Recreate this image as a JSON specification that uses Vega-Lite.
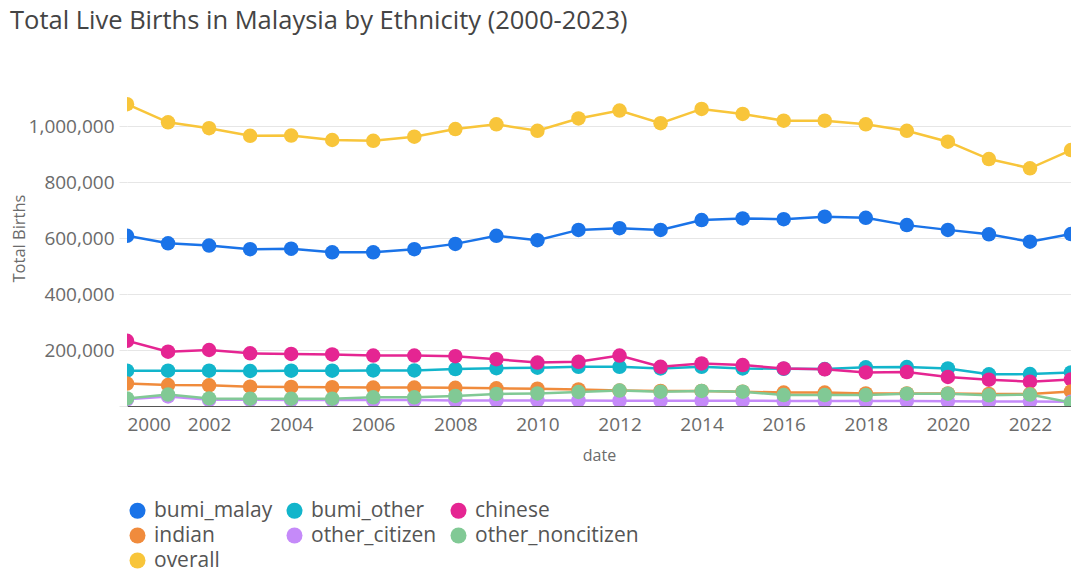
{
  "$schema": "https://vega.github.io/schema/vega-lite/v6.json",
  "width": 944,
  "height": 336,
  "autosize": {"type": "none"},
  "padding": {"left": 127, "top": 70, "right": 0, "bottom": 166},
  "background": "white",
  "title": {
    "text": "Total Live Births in Malaysia by Ethnicity (2000-2023)",
    "anchor": "start",
    "frame": "group",
    "dx": -117,
    "offset": 36,
    "fontSize": 25.5,
    "font": "Open Sans",
    "fontWeight": "normal",
    "color": "#444444"
  },
  "config": {
    "view": {"stroke": null},
    "font": "Open Sans"
  },
  "data": {
    "values": [
      {"year": 2000, "ethnicity": "bumi_malay", "births": 608000},
      {"year": 2001, "ethnicity": "bumi_malay", "births": 581000},
      {"year": 2002, "ethnicity": "bumi_malay", "births": 573000},
      {"year": 2003, "ethnicity": "bumi_malay", "births": 560000},
      {"year": 2004, "ethnicity": "bumi_malay", "births": 562000},
      {"year": 2005, "ethnicity": "bumi_malay", "births": 549000},
      {"year": 2006, "ethnicity": "bumi_malay", "births": 549000},
      {"year": 2007, "ethnicity": "bumi_malay", "births": 560000},
      {"year": 2008, "ethnicity": "bumi_malay", "births": 579000},
      {"year": 2009, "ethnicity": "bumi_malay", "births": 608000},
      {"year": 2010, "ethnicity": "bumi_malay", "births": 592000},
      {"year": 2011, "ethnicity": "bumi_malay", "births": 629000},
      {"year": 2012, "ethnicity": "bumi_malay", "births": 635000},
      {"year": 2013, "ethnicity": "bumi_malay", "births": 629000},
      {"year": 2014, "ethnicity": "bumi_malay", "births": 664000},
      {"year": 2015, "ethnicity": "bumi_malay", "births": 670000},
      {"year": 2016, "ethnicity": "bumi_malay", "births": 667000},
      {"year": 2017, "ethnicity": "bumi_malay", "births": 676000},
      {"year": 2018, "ethnicity": "bumi_malay", "births": 672000},
      {"year": 2019, "ethnicity": "bumi_malay", "births": 646000},
      {"year": 2020, "ethnicity": "bumi_malay", "births": 629000},
      {"year": 2021, "ethnicity": "bumi_malay", "births": 613000},
      {"year": 2022, "ethnicity": "bumi_malay", "births": 587000},
      {"year": 2023, "ethnicity": "bumi_malay", "births": 614000},
      {"year": 2000, "ethnicity": "bumi_other", "births": 126000},
      {"year": 2001, "ethnicity": "bumi_other", "births": 126000},
      {"year": 2002, "ethnicity": "bumi_other", "births": 126000},
      {"year": 2003, "ethnicity": "bumi_other", "births": 125000},
      {"year": 2004, "ethnicity": "bumi_other", "births": 126000},
      {"year": 2005, "ethnicity": "bumi_other", "births": 126000},
      {"year": 2006, "ethnicity": "bumi_other", "births": 127000},
      {"year": 2007, "ethnicity": "bumi_other", "births": 127000},
      {"year": 2008, "ethnicity": "bumi_other", "births": 132000},
      {"year": 2009, "ethnicity": "bumi_other", "births": 135000},
      {"year": 2010, "ethnicity": "bumi_other", "births": 137000},
      {"year": 2011, "ethnicity": "bumi_other", "births": 140000},
      {"year": 2012, "ethnicity": "bumi_other", "births": 140000},
      {"year": 2013, "ethnicity": "bumi_other", "births": 134000},
      {"year": 2014, "ethnicity": "bumi_other", "births": 140000},
      {"year": 2015, "ethnicity": "bumi_other", "births": 134000},
      {"year": 2016, "ethnicity": "bumi_other", "births": 133000},
      {"year": 2017, "ethnicity": "bumi_other", "births": 132000},
      {"year": 2018, "ethnicity": "bumi_other", "births": 138000},
      {"year": 2019, "ethnicity": "bumi_other", "births": 139000},
      {"year": 2020, "ethnicity": "bumi_other", "births": 134000},
      {"year": 2021, "ethnicity": "bumi_other", "births": 113000},
      {"year": 2022, "ethnicity": "bumi_other", "births": 114000},
      {"year": 2023, "ethnicity": "bumi_other", "births": 120000},
      {"year": 2000, "ethnicity": "chinese", "births": 233000},
      {"year": 2001, "ethnicity": "chinese", "births": 194000},
      {"year": 2002, "ethnicity": "chinese", "births": 200000},
      {"year": 2003, "ethnicity": "chinese", "births": 188000},
      {"year": 2004, "ethnicity": "chinese", "births": 186000},
      {"year": 2005, "ethnicity": "chinese", "births": 184000},
      {"year": 2006, "ethnicity": "chinese", "births": 180000},
      {"year": 2007, "ethnicity": "chinese", "births": 180000},
      {"year": 2008, "ethnicity": "chinese", "births": 178000},
      {"year": 2009, "ethnicity": "chinese", "births": 167000},
      {"year": 2010, "ethnicity": "chinese", "births": 155000},
      {"year": 2011, "ethnicity": "chinese", "births": 158000},
      {"year": 2012, "ethnicity": "chinese", "births": 180000},
      {"year": 2013, "ethnicity": "chinese", "births": 140000},
      {"year": 2014, "ethnicity": "chinese", "births": 152000},
      {"year": 2015, "ethnicity": "chinese", "births": 146000},
      {"year": 2016, "ethnicity": "chinese", "births": 134000},
      {"year": 2017, "ethnicity": "chinese", "births": 131000},
      {"year": 2018, "ethnicity": "chinese", "births": 120000},
      {"year": 2019, "ethnicity": "chinese", "births": 121000},
      {"year": 2020, "ethnicity": "chinese", "births": 104000},
      {"year": 2021, "ethnicity": "chinese", "births": 94000},
      {"year": 2022, "ethnicity": "chinese", "births": 87000},
      {"year": 2023, "ethnicity": "chinese", "births": 95000},
      {"year": 2000, "ethnicity": "indian", "births": 80000},
      {"year": 2001, "ethnicity": "indian", "births": 75000},
      {"year": 2002, "ethnicity": "indian", "births": 74000},
      {"year": 2003, "ethnicity": "indian", "births": 69000},
      {"year": 2004, "ethnicity": "indian", "births": 68000},
      {"year": 2005, "ethnicity": "indian", "births": 67000},
      {"year": 2006, "ethnicity": "indian", "births": 66000},
      {"year": 2007, "ethnicity": "indian", "births": 66000},
      {"year": 2008, "ethnicity": "indian", "births": 65000},
      {"year": 2009, "ethnicity": "indian", "births": 63000},
      {"year": 2010, "ethnicity": "indian", "births": 62000},
      {"year": 2011, "ethnicity": "indian", "births": 59000},
      {"year": 2012, "ethnicity": "indian", "births": 55000},
      {"year": 2013, "ethnicity": "indian", "births": 54000},
      {"year": 2014, "ethnicity": "indian", "births": 54000},
      {"year": 2015, "ethnicity": "indian", "births": 51000},
      {"year": 2016, "ethnicity": "indian", "births": 48000},
      {"year": 2017, "ethnicity": "indian", "births": 48000},
      {"year": 2018, "ethnicity": "indian", "births": 45000},
      {"year": 2019, "ethnicity": "indian", "births": 45000},
      {"year": 2020, "ethnicity": "indian", "births": 45000},
      {"year": 2021, "ethnicity": "indian", "births": 43000},
      {"year": 2022, "ethnicity": "indian", "births": 43000},
      {"year": 2023, "ethnicity": "indian", "births": 52000},
      {"year": 2000, "ethnicity": "other_citizen", "births": 24000},
      {"year": 2001, "ethnicity": "other_citizen", "births": 34000},
      {"year": 2002, "ethnicity": "other_citizen", "births": 22000},
      {"year": 2003, "ethnicity": "other_citizen", "births": 22000},
      {"year": 2004, "ethnicity": "other_citizen", "births": 21000},
      {"year": 2005, "ethnicity": "other_citizen", "births": 21000},
      {"year": 2006, "ethnicity": "other_citizen", "births": 21000},
      {"year": 2007, "ethnicity": "other_citizen", "births": 21000},
      {"year": 2008, "ethnicity": "other_citizen", "births": 20000},
      {"year": 2009, "ethnicity": "other_citizen", "births": 20000},
      {"year": 2010, "ethnicity": "other_citizen", "births": 20000},
      {"year": 2011, "ethnicity": "other_citizen", "births": 20000},
      {"year": 2012, "ethnicity": "other_citizen", "births": 19000},
      {"year": 2013, "ethnicity": "other_citizen", "births": 19000},
      {"year": 2014, "ethnicity": "other_citizen", "births": 19000},
      {"year": 2015, "ethnicity": "other_citizen", "births": 19000},
      {"year": 2016, "ethnicity": "other_citizen", "births": 18000},
      {"year": 2017, "ethnicity": "other_citizen", "births": 18000},
      {"year": 2018, "ethnicity": "other_citizen", "births": 18000},
      {"year": 2019, "ethnicity": "other_citizen", "births": 18000},
      {"year": 2020, "ethnicity": "other_citizen", "births": 17000},
      {"year": 2021, "ethnicity": "other_citizen", "births": 16000},
      {"year": 2022, "ethnicity": "other_citizen", "births": 16000},
      {"year": 2023, "ethnicity": "other_citizen", "births": 15000},
      {"year": 2000, "ethnicity": "other_noncitizen", "births": 27000},
      {"year": 2001, "ethnicity": "other_noncitizen", "births": 41000},
      {"year": 2002, "ethnicity": "other_noncitizen", "births": 27000},
      {"year": 2003, "ethnicity": "other_noncitizen", "births": 26000},
      {"year": 2004, "ethnicity": "other_noncitizen", "births": 26000},
      {"year": 2005, "ethnicity": "other_noncitizen", "births": 26000},
      {"year": 2006, "ethnicity": "other_noncitizen", "births": 31000},
      {"year": 2007, "ethnicity": "other_noncitizen", "births": 31000},
      {"year": 2008, "ethnicity": "other_noncitizen", "births": 36000},
      {"year": 2009, "ethnicity": "other_noncitizen", "births": 43000},
      {"year": 2010, "ethnicity": "other_noncitizen", "births": 45000},
      {"year": 2011, "ethnicity": "other_noncitizen", "births": 50000},
      {"year": 2012, "ethnicity": "other_noncitizen", "births": 55000},
      {"year": 2013, "ethnicity": "other_noncitizen", "births": 51000},
      {"year": 2014, "ethnicity": "other_noncitizen", "births": 54000},
      {"year": 2015, "ethnicity": "other_noncitizen", "births": 51000},
      {"year": 2016, "ethnicity": "other_noncitizen", "births": 39000},
      {"year": 2017, "ethnicity": "other_noncitizen", "births": 39000},
      {"year": 2018, "ethnicity": "other_noncitizen", "births": 39000},
      {"year": 2019, "ethnicity": "other_noncitizen", "births": 44000},
      {"year": 2020, "ethnicity": "other_noncitizen", "births": 44000},
      {"year": 2021, "ethnicity": "other_noncitizen", "births": 38000},
      {"year": 2022, "ethnicity": "other_noncitizen", "births": 41000},
      {"year": 2023, "ethnicity": "other_noncitizen", "births": 12000},
      {"year": 2000, "ethnicity": "overall", "births": 1078000},
      {"year": 2001, "ethnicity": "overall", "births": 1013000},
      {"year": 2002, "ethnicity": "overall", "births": 992000},
      {"year": 2003, "ethnicity": "overall", "births": 965000},
      {"year": 2004, "ethnicity": "overall", "births": 966000},
      {"year": 2005, "ethnicity": "overall", "births": 950000},
      {"year": 2006, "ethnicity": "overall", "births": 947000},
      {"year": 2007, "ethnicity": "overall", "births": 962000},
      {"year": 2008, "ethnicity": "overall", "births": 989000},
      {"year": 2009, "ethnicity": "overall", "births": 1006000},
      {"year": 2010, "ethnicity": "overall", "births": 983000},
      {"year": 2011, "ethnicity": "overall", "births": 1027000},
      {"year": 2012, "ethnicity": "overall", "births": 1055000},
      {"year": 2013, "ethnicity": "overall", "births": 1010000},
      {"year": 2014, "ethnicity": "overall", "births": 1061000},
      {"year": 2015, "ethnicity": "overall", "births": 1043000},
      {"year": 2016, "ethnicity": "overall", "births": 1019000},
      {"year": 2017, "ethnicity": "overall", "births": 1019000},
      {"year": 2018, "ethnicity": "overall", "births": 1006000},
      {"year": 2019, "ethnicity": "overall", "births": 983000},
      {"year": 2020, "ethnicity": "overall", "births": 944000},
      {"year": 2021, "ethnicity": "overall", "births": 882000},
      {"year": 2022, "ethnicity": "overall", "births": 849000},
      {"year": 2023, "ethnicity": "overall", "births": 914000}
    ]
  },
  "encoding": {
    "x": {
      "field": "year",
      "type": "quantitative",
      "scale": {"domain": [2000, 2023], "nice": false, "zero": false},
      "axis": {
        "values": [2000, 2002, 2004, 2006, 2008, 2010, 2012, 2014, 2016, 2018, 2020, 2022],
        "format": "d",
        "title": "date",
        "labelFlush": true,
        "grid": false,
        "ticks": false,
        "domainColor": "#555555",
        "domainWidth": 1,
        "labelFontSize": 19,
        "labelColor": "#6b6b6b",
        "labelPadding": 9,
        "titleFontSize": 16,
        "titleColor": "#6b6b6b",
        "titleFontWeight": "normal",
        "titlePadding": 13
      }
    },
    "y": {
      "field": "births",
      "type": "quantitative",
      "scale": {"domain": [0, 1200000], "nice": false},
      "axis": {
        "values": [0, 200000, 400000, 600000, 800000, 1000000],
        "format": ",.0f",
        "labelExpr": "datum.value == 0 ? '' : datum.label",
        "title": "Total Births",
        "domain": false,
        "ticks": true,
        "tickSize": 8,
        "tickColor": "#e6e6e6",
        "gridColor": "#e6e6e6",
        "labelFontSize": 19,
        "labelColor": "#6b6b6b",
        "labelPadding": 5,
        "titleFontSize": 16.5,
        "titleColor": "#6b6b6b",
        "titleFontWeight": "normal",
        "titlePadding": 1
      }
    },
    "color": {
      "field": "ethnicity",
      "type": "nominal",
      "scale": {
        "domain": ["bumi_malay", "bumi_other", "chinese", "indian", "other_citizen", "other_noncitizen", "overall"],
        "range": ["#1a73e8", "#12b5cb", "#e52592", "#f08b3c", "#c58af9", "#81c995", "#f8c53a"]
      },
      "legend": {
        "title": null,
        "orient": "none",
        "legendX": 0,
        "legendY": 430,
        "direction": "horizontal",
        "columns": 3,
        "symbolType": "circle",
        "symbolSize": 256,
        "symbolStrokeWidth": 0,
        "symbolOpacity": 1,
        "labelFontSize": 21,
        "labelLimit": 400,
        "labelColor": "#555555",
        "labelOffset": 6,
        "columnPadding": 11,
        "rowPadding": 3
      }
    }
  },
  "layer": [
    {"mark": {"type": "line", "strokeWidth": 2.5, "clip": true}},
    {"mark": {"type": "circle", "size": 210, "opacity": 1, "clip": true}}
  ]
}
